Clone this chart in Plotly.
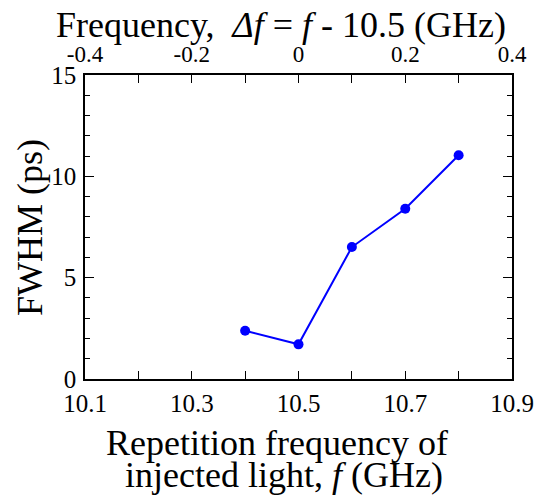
import plotly.graph_objects as go

freq_ghz = [10.4, 10.5, 10.6, 10.7, 10.8]
fwhm_ps = [2.38, 1.71, 6.51, 8.40, 11.04]
center_freq = 10.5
delta_f = [round(f - center_freq, 3) for f in freq_ghz]

top_tick_vals = [-0.4, -0.2, 0, 0.2, 0.4]
top_tick_text = ["-0.4", "-0.2", "0", "0.2", "0.4"]

FONT = "Liberation Serif"
BLUE = "#0000ff"

# the page body adds an 8px offset, so figure pixels = page pixels - 8
OFF = 8
L, R, T, B = 85 - OFF, 512 - OFF, 75 - OFF, 379 - OFF
W, H = 546 - OFF, 499 - OFF

fig = go.Figure()
fig.add_trace(go.Scatter(
    x=freq_ghz, y=fwhm_ps, mode="lines+markers",
    line=dict(color=BLUE, width=2),
    marker=dict(color=BLUE, size=10),
    showlegend=False, hoverinfo="x+y",
))
fig.add_trace(go.Scatter(
    x=delta_f, y=fwhm_ps, xaxis="x2", mode="markers",
    marker=dict(opacity=0), showlegend=False, hoverinfo="skip",
))

common = dict(
    showgrid=False, zeroline=False, showline=True, linecolor="black", linewidth=1.5,
    ticks="inside", tickcolor="black", tickwidth=1.2, automargin=False,
)
minor_common = dict(ticks="inside", tickcolor="black", tickwidth=1.2)

fig.update_layout(
    width=W, height=H,
    margin=dict(l=L, r=W - R, t=T, b=H - B, autoexpand=False),
    paper_bgcolor="white", plot_bgcolor="white",
    font=dict(family=FONT, color="black", size=24),
    xaxis=dict(
        range=[10.1, 10.9], tick0=10.1, dtick=0.2, ticklen=8,
        minor=dict(dtick=0.1, tick0=10.1, ticklen=8, **minor_common),
        tickfont=dict(family=FONT, size=25, color="black"), ticklabelstandoff=1,
        **common,
    ),
    xaxis2=dict(
        range=[-0.4, 0.4], tickmode="array", tickvals=top_tick_vals, ticktext=top_tick_text,
        ticklen=8,
        minor=dict(tickmode="linear", dtick=0.1, tick0=-0.4, ticklen=8, **minor_common),
        overlaying="x", side="top", anchor="y",
        tickfont=dict(family=FONT, size=23, color="black"), ticklabelstandoff=2,
        **common,
    ),
    yaxis=dict(
        range=[0, 15], tick0=0, dtick=5, ticklen=9, mirror="ticks",
        minor=dict(dtick=1, ticklen=5, **minor_common),
        tickfont=dict(family=FONT, size=25, color="black"), ticklabelstandoff=2,
        **common,
    ),
)

def px_x(x):
    return (x - OFF - L) / (R - L)

def px_y(y):
    return (B - (y - OFF)) / (B - T)

def label(text, x, y, size, angle=0):
    fig.add_annotation(text=text, textangle=angle,
                       xref="paper", yref="paper", x=px_x(x), y=px_y(y),
                       xanchor="center", yanchor="middle", showarrow=False,
                       font=dict(family=FONT, size=size, color="black"))

# positions given in page pixels
label("Frequency,  <i>Δf</i> = <i>f</i> - 10.5 (GHz)", 281, 25, 36)
label("Repetition frequency of", 277, 443, 36)
label("injected light, <i>f</i> (GHz)", 284, 475, 36)
label("FWHM (ps)", 30, 228, 36, angle=-90)

fig.write_html("out.html")
